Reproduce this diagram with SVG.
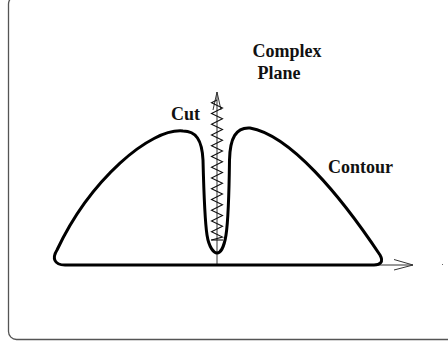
<svg xmlns="http://www.w3.org/2000/svg" width="448" height="343" viewBox="0 0 448 343">
<style>
.lbl{font-family:"Liberation Serif","Times New Roman",serif;font-weight:bold;font-size:18px;fill:#111}
.axis{fill:none;stroke:#333;stroke-width:1}
.zig{fill:none;stroke:#111;stroke-width:1.1;stroke-linejoin:miter}
.contour{fill:none;stroke:#000;stroke-width:3;stroke-linejoin:round;stroke-linecap:round}
</style>
<rect x="8.5" y="-4" width="470" height="343.5" rx="8" ry="8" fill="#fff" stroke="#555" stroke-width="1.3"/>
<g id="axes">
<line class="axis" x1="217" y1="265" x2="413" y2="265"/>
<polyline class="axis" points="394,259.5 413,265 394,270"/>
<line class="axis" x1="217" y1="265" x2="217" y2="92"/>
<polyline class="axis" points="213,110 217,92 221,110"/>
</g>
<g id="cut">
<polyline class="zig" points="217,100 211.5,102.7 222.5,108 211.5,113.4 222.5,118.8 211.5,124.2 222.5,129.5 211.5,134.9 222.5,140.3 211.5,145.7 222.5,151 211.5,156.4 222.5,161.8 211.5,167.2 222.5,172.5 211.5,177.9 222.5,183.3 211.5,188.7 222.5,194 211.5,199.4 222.5,204.8 211.5,210.2 222.5,215.5 211.5,220.9 222.5,226.3 211.5,231.7 222.5,237 211.5,240"/>
<line class="zig" x1="211" y1="240" x2="223" y2="240"/>
</g>
<g id="contour">
<path class="contour" d="M65 265 L374 265 C380 265 384 262 380 255 C340 195 290 135 250 128 C236 127 230 138 229.5 160 C229 200 228 222 226 235 C224 248 220 253 217 253 C214 253 209 248 207 235 C205 222 204 200 203 160 C202 140 196 131 183 131 C150 128 90 180 57 250 C52 258 54 265 65 265 Z"/>
</g>
<g id="labels">
<text class="lbl" x="252.5" y="57">Complex</text>
<text class="lbl" x="257.5" y="79">Plane</text>
<text class="lbl" x="171" y="120">Cut</text>
<text class="lbl" x="328" y="172.5">Contour</text>
</g>
<rect x="442" y="264" width="1" height="1" fill="#666"/>
</svg>
